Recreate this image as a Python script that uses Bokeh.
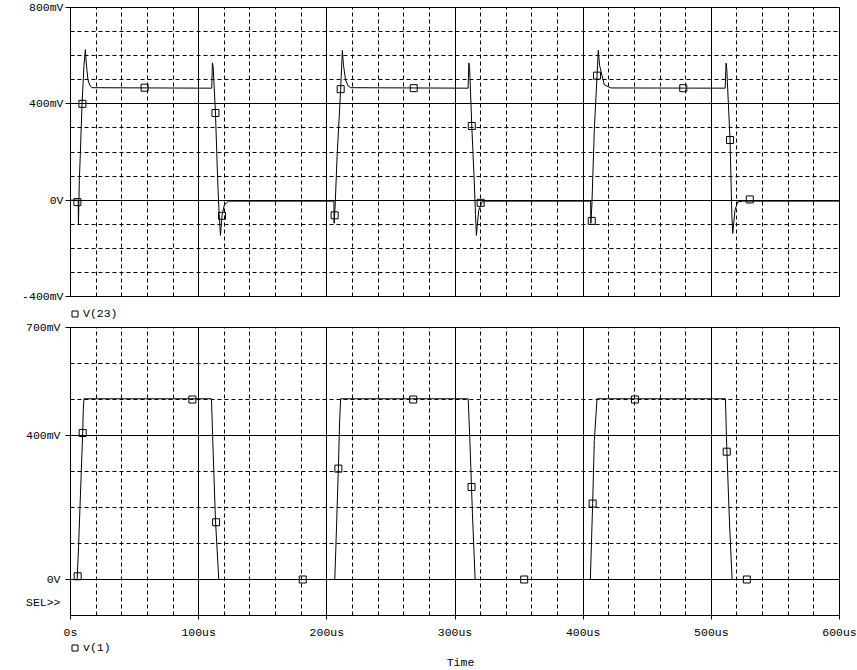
from bokeh.plotting import figure
from bokeh.models import Range1d, FixedTicker, Legend, LegendItem, Label
from bokeh.layouts import column
from bokeh.embed import file_html
from bokeh.resources import INLINE

# ---------------- data (time in us, voltage in mV) ----------------
t_v23 = [0, 6.0, 6.2, 6.9, 7.7, 9.0, 10.5, 11.6, 12.3, 13.6, 15.0, 16.7,
         110.2, 110.7, 111.3, 113.1, 114.9, 116.0, 117.0, 118.2, 120.0, 123.4,
         205.5, 205.7, 206.5, 208.0, 210.8, 212.1, 213.0, 214.6, 216.5, 218.5,
         310.2, 310.8, 311.4, 313.1, 315.0, 316.0, 316.7, 318.5, 321.4,
         405.8, 406.0, 406.8, 408.7, 410.8, 411.8, 412.8, 416.5, 421.6,
         510.8, 511.5, 512.1, 514.6, 516.0, 516.7, 518.5, 520.6, 524.5, 600]
v_v23 = [0, 0, -100, 83, 195, 400, 560, 625, 570, 500, 478, 467,
         465, 570, 555, 362, 72, -60, -146, -65, -20, -4,
         -4, -96, -20, 180, 461, 622, 560, 500, 475, 467,
         465, 570, 550, 308, 80, -60, -146, -42, -4,
         -4, -96, -20, 292, 514, 622, 560, 479, 466,
         465, 569, 540, 250, -60, -138, -40, -7, -4, -4]

mk_t_v23 = [5.4, 9.3, 57.8, 113.1, 118.2, 206.1, 210.8, 267.8, 313.1, 320.0,
            406.7, 410.8, 478.1, 514.6, 530.0]
mk_v_v23 = [-8, 400, 467, 362, -65, -63, 461, 465, 308, -11,
            -86, 517, 465, 250, 3]

t_v1 = [0, 5.2, 6.3, 9.5, 10.0, 10.5, 110.0, 111.0, 113.1, 115.7,
        206.2, 207.0, 209.0, 210.0, 210.8, 310.3, 311.6, 313.6, 315.7,
        405.6, 407.4, 408.7, 410.8, 511.0, 512.0, 514.1, 516.2, 600]
v_v1 = [0, 0, 92, 407, 474, 502, 502, 386, 165, 0,
        0, 83, 308, 441, 502, 502, 386, 184, 0,
        0, 211, 386, 502, 502, 370, 165, 0, 0]

mk_t_v1 = [5.6, 9.5, 95.1, 113.6, 181.2, 209.0, 267.4, 312.9, 354.0,
           407.4, 440.4, 512.0, 527.7]
mk_v_v1 = [9, 407, 500, 159, 0, 308, 500, 257, 0, 211, 500, 355, 0]

series_names = ["V(23)", "v(1)"]
x_title = "Time"

x_ticks = [0, 100, 200, 300, 400, 500, 600]
x_tick_labels = ["0s", "100us", "200us", "300us", "400us", "500us", "600us"]
x_grid_major = [100, 200, 300, 400, 500]
x_grid_minor = [20, 40, 60, 80, 120, 140, 160, 180, 220, 240, 260, 280,
                320, 340, 360, 380, 420, 440, 460, 480, 520, 540, 560, 580]

top_ticks = [-400, 0, 400, 800]
top_tick_labels = ["-400mV", "0V", "400mV", "800mV"]
top_grid_major = [0, 400]
top_grid_minor = [-300, -200, -100, 100, 200, 300, 500, 600, 700]

bot_ticks = [0, 400, 700]
bot_tick_labels = ["0V", "400mV", "700mV"]
sel_pos = -63
sel_label = "SEL>>"
bot_grid_major = [0, 400]
bot_grid_minor = [100, 200, 300, 500, 600]

FONT = "Liberation Mono"
FS = "11.5px"
DASH = "4 3"
W = 857
LEFT, RIGHT = 70, 18


def make_fig(height, yr, top, bottom):
    p = figure(width=W, height=height, x_range=Range1d(0, 600), y_range=Range1d(*yr),
               output_backend="svg", toolbar_location=None,
               min_border_left=LEFT, min_border_right=RIGHT,
               min_border_top=top, min_border_bottom=bottom)
    p.background_fill_color = "white"
    p.border_fill_color = "white"
    p.outline_line_color = "black"
    p.outline_line_alpha = 1
    p.outline_line_width = 1
    return p


def style_grid(p, gmaj, gmin):
    p.xgrid.ticker = FixedTicker(ticks=x_grid_major, minor_ticks=x_grid_minor)
    p.ygrid.ticker = FixedTicker(ticks=gmaj, minor_ticks=gmin)
    for g in (p.xgrid, p.ygrid):
        g.grid_line_color = "black"
        g.grid_line_alpha = 1
        g.grid_line_width = 1
        g.minor_grid_line_color = "black"
        g.minor_grid_line_alpha = 1
        g.minor_grid_line_dash = DASH
        g.minor_grid_line_width = 1


def style_axis_text(ax):
    ax.axis_line_color = "black"
    ax.major_tick_line_color = "black"
    ax.minor_tick_line_color = "black"
    ax.major_label_text_font = FONT
    ax.major_label_text_font_size = FS
    ax.major_label_text_color = "black"


def make_strip(height):
    # a thin text strip whose frame lines up with the plot frames above/below
    s = figure(width=W, height=height, x_range=Range1d(0, 1), y_range=Range1d(0, 1),
               output_backend="svg", toolbar_location=None,
               min_border_left=LEFT, min_border_right=RIGHT,
               min_border_top=0, min_border_bottom=0)
    s.axis.visible = False
    s.grid.visible = False
    s.outline_line_color = None
    s.background_fill_color = "white"
    s.border_fill_color = "white"
    return s


def make_legend(strip, label, xs, ys, loc):
    # legend swatch renderer (hidden) so the legend draws the same square marker
    sw = strip.scatter(x=xs[:1], y=ys[:1], marker="square", size=7, fill_alpha=0,
                       line_color="black", line_width=1, visible=False)
    return Legend(items=[LegendItem(label=label, renderers=[sw])], location=loc,
                  padding=0, margin=0, spacing=0, glyph_width=15, glyph_height=15,
                  label_height=15, label_width=10, label_standoff=1,
                  border_line_alpha=0, background_fill_alpha=0,
                  inactive_fill_alpha=0,
                  label_text_font=FONT, label_text_font_size=FS, label_text_color="black")


# ---------------- top panel: V(23) ----------------
p1 = make_fig(303, (-400, 800), 7, 7)
style_grid(p1, top_grid_major, top_grid_minor)
p1.xaxis.visible = False
ya1 = p1.yaxis[0]
ya1.ticker = FixedTicker(ticks=top_ticks)
ya1.major_label_overrides = dict(zip(top_ticks, top_tick_labels))
ya1.major_tick_out = 5
ya1.major_tick_in = 0
ya1.minor_tick_out = 0
ya1.minor_tick_in = 0
ya1.major_label_standoff = 2
style_axis_text(ya1)
p1.line(t_v23, v_v23, line_color="black", line_width=1)
p1.scatter(mk_t_v23, mk_v_v23, marker="square", size=7, fill_alpha=0,
           line_color="black", line_width=1)

# legend strip for V(23)
s1 = make_strip(17)
s1.add_layout(make_legend(s1, series_names[0], mk_t_v23, mk_v_v23, (-3, -1)))

# ---------------- bottom panel: v(1) ----------------
p2 = make_fig(321, (-100, 700), 7, 25)
style_grid(p2, bot_grid_major, bot_grid_minor)
ya2 = p2.yaxis[0]
ya2.ticker = FixedTicker(ticks=[sel_pos] + bot_ticks, minor_ticks=bot_ticks)
ya2.major_label_overrides = dict(zip([sel_pos] + bot_ticks, [sel_label] + bot_tick_labels))
ya2.major_tick_out = 0
ya2.major_tick_in = 0
ya2.minor_tick_out = 5
ya2.minor_tick_in = 0
ya2.major_label_standoff = 5
style_axis_text(ya2)

p2.line(t_v1, v_v1, line_color="black", line_width=1)
p2.scatter(mk_t_v1, mk_v_v1, marker="square", size=7, fill_alpha=0,
           line_color="black", line_width=1)

xa = p2.xaxis[0]
xa.ticker = FixedTicker(ticks=x_ticks)
xa.major_label_overrides = dict(zip(x_ticks, x_tick_labels))
xa.major_tick_out = 4
xa.major_tick_in = 0
xa.minor_tick_out = 0
xa.minor_tick_in = 0
xa.major_label_standoff = 6
style_axis_text(xa)

# legend + axis title strip
s2 = make_strip(29)
s2.add_layout(make_legend(s2, series_names[1], mk_t_v1, mk_v_v1, (-3, 15)))
s2.add_layout(Label(x=390, y=8.5, x_units="screen", y_units="screen",
                    text=x_title, text_align="center", text_baseline="middle",
                    text_font=FONT, text_font_size=FS, text_color="black"))

layout = column(p1, s1, p2, s2)
open("out.html", "w").write(file_html(layout, INLINE))
